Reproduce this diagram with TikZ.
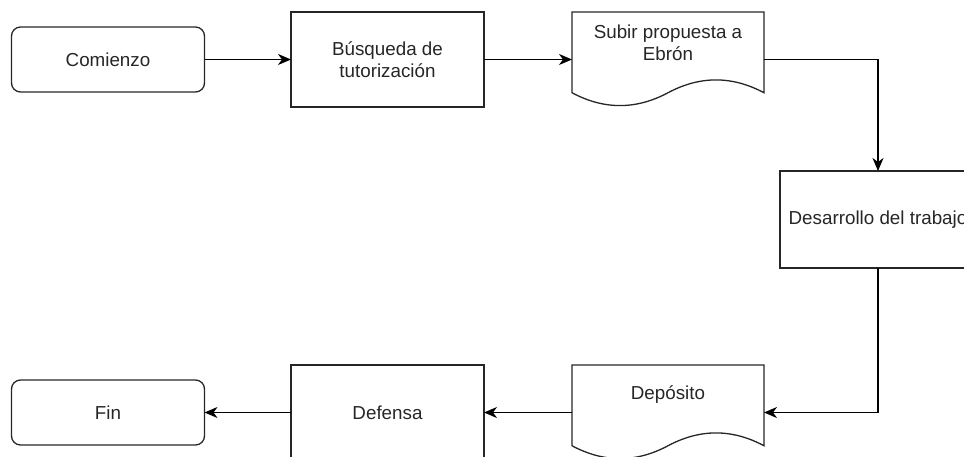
\documentclass[tikz,border=0pt]{standalone}
\usepackage{fontspec}
\setmainfont{Liberation Sans}
\usetikzlibrary{arrows.meta}
\newcommand\docpath[1]{\draw[shapeline] (#1.north west) -- (#1.north east) -- ([shift={(0,80.75)}]#1.north east) .. controls ([shift={(-32,63.65)}]#1.north east) and ([shift={(-64,63.65)}]#1.north east) .. ([shift={(96,80.75)}]#1.north west) .. controls ([shift={(64,97.85)}]#1.north west) and ([shift={(32,97.85)}]#1.north west) .. ([shift={(0,80.75)}]#1.north west) -- cycle;}
\begin{document}
\begin{tikzpicture}[x=1pt,y=-1pt,
  shapeline/.style={draw=black!85, line width=1.3pt},
  box/.style={shapeline, minimum width=193pt, minimum height=95pt, inner sep=0pt, outer sep=0pt, align=center, font=\fontsize{18.8}{22}\selectfont, text=black!85},
  term/.style={box, minimum height=65pt, rounded corners=9pt},
  docbox/.style={minimum width=192pt, minimum height=95pt, inner sep=0pt, outer sep=0pt},
  txt/.style={align=center, font=\fontsize{18.8}{22}\selectfont, text=black!85, inner sep=0pt},
  conn/.style={draw=black, line width=1.3pt, -{Stealth[length=13pt,width=11pt,inset=4pt]}}
]
\useasboundingbox (0,0) rectangle (964,457);
\clip (0,0) rectangle (964,457);
\node[term] (comienzo) at (108,59.5) {Comienzo};
\node[box] (busqueda) at (387.5,59.5) {Búsqueda de\\tutorización};
\node[docbox] (subir) at (668,59.5) {};
\docpath{subir}
\node[txt] (subirtxt) at (668,42.5) {Subir propuesta a\\Ebrón};
\node[box, minimum width=196pt, minimum height=97pt] (desarrollo) at (878,219.5) {Desarrollo del trabajo};
\node[docbox] (deposito) at (668,412.5) {};
\docpath{deposito}
\node[txt] (depositotxt) at (668,395) {Depósito};
\node[box] (defensa) at (387.5,412.5) {Defensa};
\node[term] (fin) at (108,412.5) {Fin};
\draw[conn] (comienzo) -- (busqueda);
\draw[conn] (busqueda) -- (subir);
\draw[conn] (subir.east) -| (desarrollo.north);
\draw[conn] (desarrollo.south) |- (deposito.east);
\draw[conn] (deposito.west) -- (defensa.east);
\draw[conn] (defensa.west) -- (fin.east);
\end{tikzpicture}
\end{document}
